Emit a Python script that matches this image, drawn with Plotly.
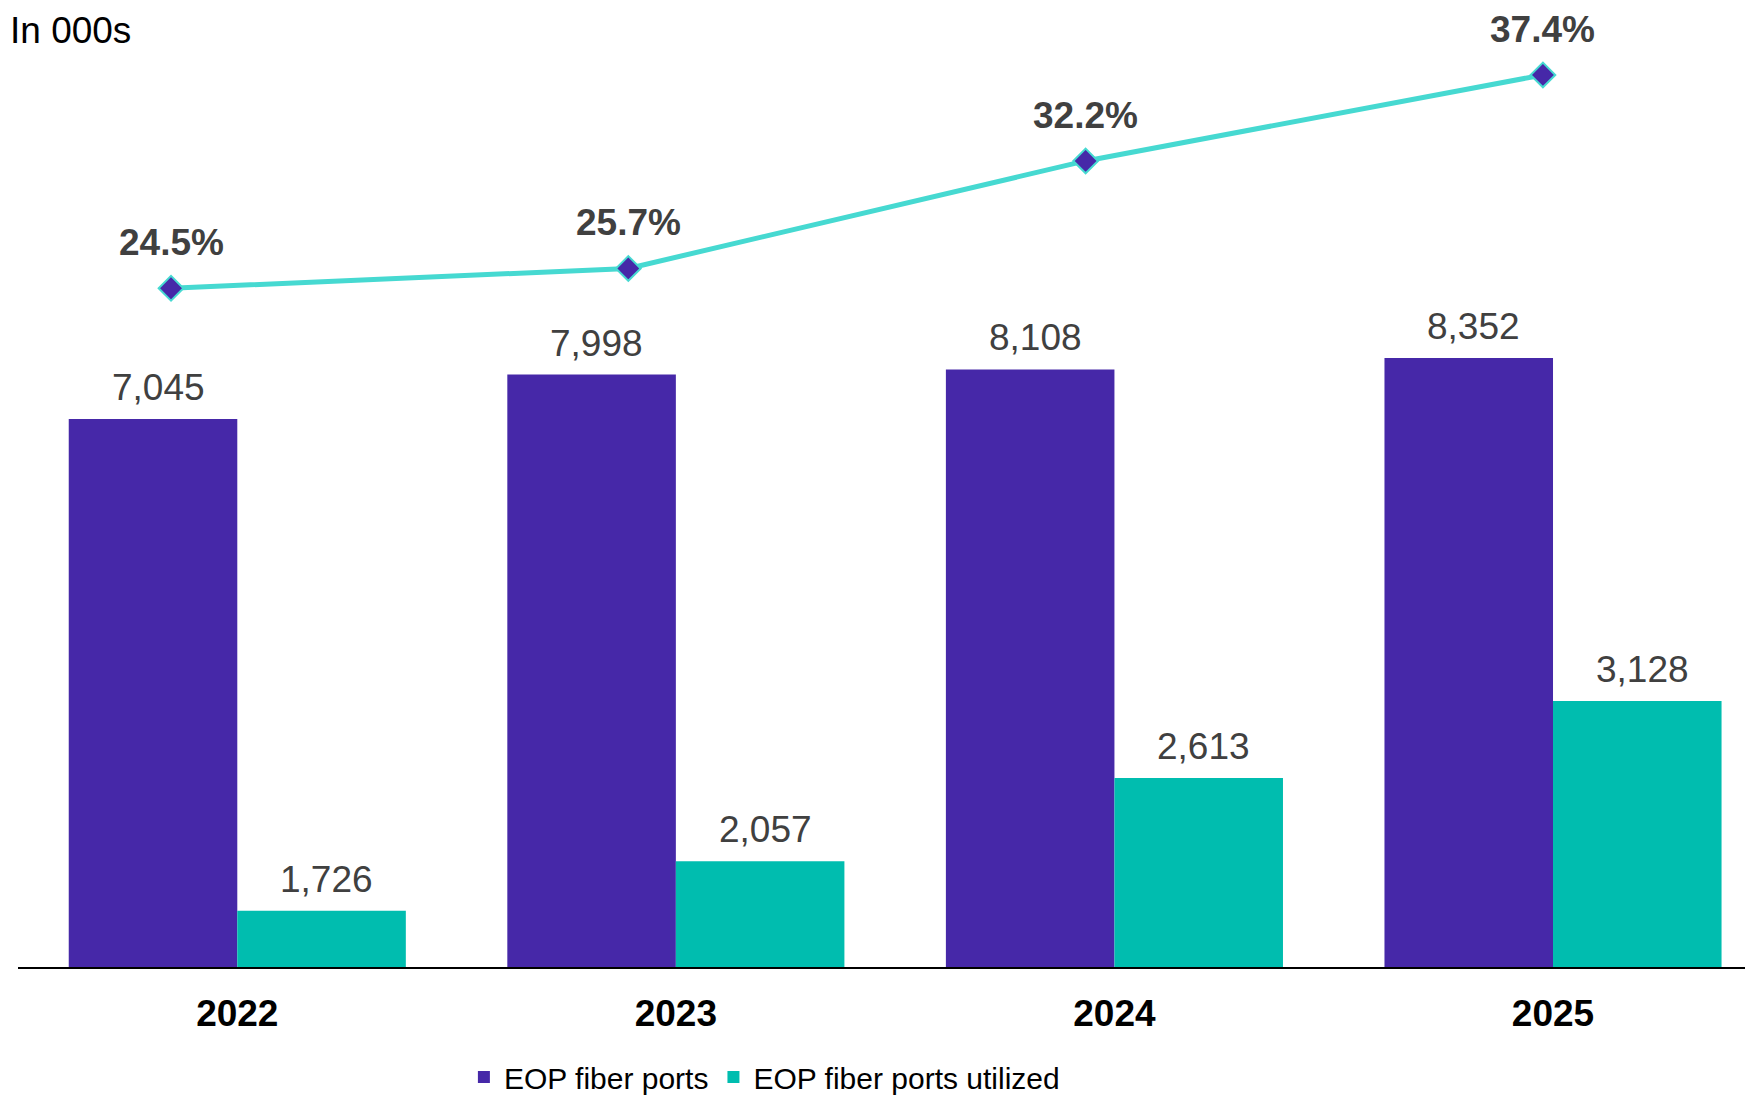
import plotly.graph_objects as go

years = ["2022", "2023", "2024", "2025"]
fiber_ports = [7045, 7998, 8108, 8352]
ports_utilized = [1726, 2057, 2613, 3128]
utilization_pct = [24.5, 25.7, 32.2, 37.4]

PURPLE = "#4628A8"
TEAL = "#00BDAF"
LINE = "#46D9D1"
LABEL = "#404040"
FONT = "Arial, Liberation Sans, sans-serif"
BW = 0.3843

# value axes (the source chart does not start its bars at zero)
Y1_RANGE = [-4697, 15851]
Y2_RANGE = [1349.5, 7762.5]
Y3_RANGE = [-16.55, 41.45]

fig = go.Figure()
fig.add_bar(x=years, y=[v - Y1_RANGE[0] for v in fiber_ports], base=Y1_RANGE[0],
            name="EOP fiber ports", yaxis="y",
            width=BW, offset=-BW, marker=dict(color=PURPLE, line=dict(width=0)))
fig.add_bar(x=years, y=ports_utilized, name="EOP fiber ports utilized", yaxis="y2",
            width=BW, offset=0, marker=dict(color=TEAL, line=dict(width=0)))
fig.add_scatter(x=years, y=utilization_pct, xaxis="x2", yaxis="y3", mode="lines+markers",
                line=dict(color=LINE, width=5), showlegend=False,
                marker=dict(symbol="diamond", size=19, color=PURPLE,
                            line=dict(color=LINE, width=2)))

ann = []
for i, v in enumerate(fiber_ports):
    ann.append(dict(x=i - BW / 2, y=v, xref="x", yref="y", text=f"{v:,}", showarrow=False,
                    yanchor="bottom", yshift=9, xshift=5,
                    font=dict(family=FONT, size=37, color=LABEL)))
for i, v in enumerate(ports_utilized):
    ann.append(dict(x=i + BW / 2, y=v, xref="x", yref="y2", text=f"{v:,}", showarrow=False,
                    yanchor="bottom", yshift=9, xshift=5,
                    font=dict(family=FONT, size=37, color=LABEL)))
for i, p in enumerate(utilization_pct):
    ann.append(dict(x=i, y=p, xref="x2", yref="y3", text=f"<b>{p}%</b>", showarrow=False,
                    yanchor="bottom", yshift=23,
                    font=dict(family=FONT, size=37, color=LABEL)))
ann.append(dict(x=-10 / 1735, y=1, xref="paper", yref="paper", xanchor="left", yanchor="top",
                yshift=0, text="In 000s", showarrow=False,
                font=dict(family=FONT, size=37, color="black")))

fig.update_layout(
    width=1745, height=1090,
    margin=dict(l=10, r=0, t=0, b=131, autoexpand=False),
    paper_bgcolor="white", plot_bgcolor="white",
    barmode="group",
    font=dict(family=FONT, color="black"),
    xaxis=dict(type="category", range=[-0.5, 3.456], showline=True, linecolor="black",
               linewidth=2, showgrid=False, zeroline=False, ticks="outside", ticklen=13,
               tickcolor="rgba(0,0,0,0)",
               tickfont=dict(family=FONT, size=37, color="black", weight="bold")),
    xaxis2=dict(type="category", overlaying="x", range=[-0.3346, 3.4594], visible=False),
    yaxis=dict(range=Y1_RANGE, visible=False),
    yaxis2=dict(range=Y2_RANGE, overlaying="y", visible=False),
    yaxis3=dict(range=Y3_RANGE, overlaying="y", visible=False),
    annotations=ann,
    showlegend=True,
    legend=dict(orientation="h", x=0.257, y=-0.1147, xanchor="left", yanchor="middle",
                font=dict(family=FONT, size=30, color="black"),
                bgcolor="rgba(0,0,0,0)"),
)

fig.write_html("out.html")
